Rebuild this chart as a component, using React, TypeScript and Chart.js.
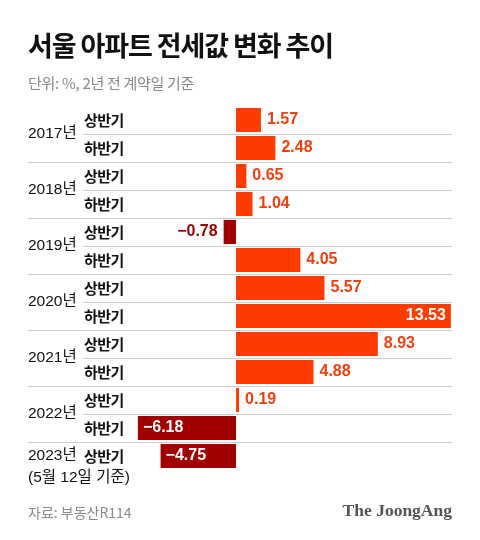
import React, { useEffect, useRef } from 'react';
import { Chart, registerables } from 'chart.js';

Chart.register(...registerables);

const titleText = '서울 아파트 전세값 변화 추이';
const subtitleText = '단위: %, 2년 전 계약일 기준';
const sourceText = '자료: 부동산R114';
const brandText = 'The JoongAng';

const categories = [
  '2017 상반기', '2017 하반기', '2018 상반기', '2018 하반기', '2019 상반기', '2019 하반기',
  '2020 상반기', '2020 하반기', '2021 상반기', '2021 하반기', '2022 상반기', '2022 하반기', '2023 상반기',
];
const rowYears = [
  '2017년', '2017년', '2018년', '2018년', '2019년', '2019년',
  '2020년', '2020년', '2021년', '2021년', '2022년', '2022년', '2023년',
];
const rowHalves = [
  '상반기', '하반기', '상반기', '하반기', '상반기', '하반기',
  '상반기', '하반기', '상반기', '하반기', '상반기', '하반기', '상반기',
];
const values = [1.57, 2.48, 0.65, 1.04, -0.78, 4.05, 5.57, 13.53, 8.93, 4.88, 0.19, -6.18, -4.75];
const noteYears = ['2023년'];
const noteTexts = ['(5월 12일 기준)'];

const POS_BAR = '#ff3c00';
const NEG_BAR = '#a00000';
const POS_TEXT = '#f0400f';
const NEG_TEXT = '#990000';
const KR = "'Noto Sans CJK KR'";
const NUM = "'Liberation Sans', 'Noto Sans CJK KR'";

function fmt(v: number) {
  return (v < 0 ? '\u2212' : '') + Math.abs(v).toFixed(2);
}

const rowPlugin = {
  id: 'rowPlugin',
  beforeDatasetsDraw(chart: any) {
    const { ctx, chartArea, scales } = chart;
    const ys = scales.y;
    const halfX = 83;
    ctx.save();
    ctx.strokeStyle = '#cccccc';
    ctx.lineWidth = 1;
    for (let i = 0; i < values.length - 1; i++) {
      const yy = Math.round((ys.getPixelForValue(i) + ys.getPixelForValue(i + 1)) / 2) + 0.5;
      const full = rowYears[i] !== rowYears[i + 1];
      ctx.beginPath();
      ctx.moveTo(full ? chartArea.left : halfX, yy);
      ctx.lineTo(chartArea.right, yy);
      ctx.stroke();
    }
    ctx.restore();
  },
  afterDatasetsDraw(chart: any) {
    const { ctx, chartArea, scales } = chart;
    const ys = scales.y;
    const halfLabelX = 84;
    ctx.save();
    ctx.textBaseline = 'middle';
    // year labels
    const seen: string[] = [];
    rowYears.forEach((yr) => {
      if (seen.indexOf(yr) >= 0) return;
      seen.push(yr);
      const idx: number[] = [];
      rowYears.forEach((y2, j) => { if (y2 === yr) idx.push(j); });
      const cy = idx.reduce((s, j) => s + ys.getPixelForValue(j), 0) / idx.length;
      ctx.font = `15.5px ${NUM}`;
      ctx.fillStyle = '#111111';
      ctx.textAlign = 'left';
      (ctx as any).letterSpacing = '0px';
      ctx.fillText(yr, chartArea.left, cy);
      const n = noteYears.indexOf(yr);
      if (n >= 0) {
        ctx.fillText(noteTexts[n], chartArea.left, cy + 22);
      }
    });
    // half labels
    rowHalves.forEach((h, i) => {
      ctx.font = `bold 15px ${KR}`;
      (ctx as any).letterSpacing = '-0.6px';
      ctx.fillStyle = '#111111';
      ctx.textAlign = 'left';
      ctx.fillText(h, halfLabelX, ys.getPixelForValue(i));
    });
    // value labels
    const meta = chart.getDatasetMeta(0);
    ctx.font = `bold 16px ${NUM}`;
    (ctx as any).letterSpacing = '0px';
    meta.data.forEach((bar: any, i: number) => {
      const v = values[i];
      const txt = fmt(v);
      const w = ctx.measureText(txt).width;
      const gap = 6;
      if (v >= 0) {
        if (bar.x + gap + w > chartArea.right) {
          ctx.fillStyle = '#ffffff';
          ctx.textAlign = 'right';
          ctx.fillText(txt, bar.x - 5, bar.y);
        } else {
          ctx.fillStyle = POS_TEXT;
          ctx.textAlign = 'left';
          ctx.fillText(txt, bar.x + gap, bar.y);
        }
      } else {
        const bw = bar.base - bar.x;
        if (bw > w + 12) {
          ctx.fillStyle = '#ffffff';
          ctx.textAlign = 'left';
          ctx.fillText(txt, bar.x + 5, bar.y);
        } else {
          ctx.fillStyle = NEG_TEXT;
          ctx.textAlign = 'right';
          ctx.fillText(txt, bar.x - gap, bar.y);
        }
      }
    });
    ctx.restore();
  },
};

export default function App() {
  const ref = useRef<HTMLCanvasElement | null>(null);
  useEffect(() => {
    if (!ref.current) return;
    const chart = new Chart(ref.current, {
      type: 'bar',
      data: {
        labels: categories,
        datasets: [
          {
            data: values,
            backgroundColor: values.map((v) => (v < 0 ? NEG_BAR : POS_BAR)),
            borderWidth: 0,
            barPercentage: 0.86,
            categoryPercentage: 1,
          },
        ],
      },
      options: {
        indexAxis: 'y',
        responsive: false,
        animation: false,
        devicePixelRatio: 1,
        layout: { padding: { left: 28, right: 28, top: 106, bottom: 70 } },
        plugins: { legend: { display: false }, tooltip: { enabled: false }, title: { display: false } },
        scales: {
          x: { display: false, min: -13.1, max: 13.6 },
          y: { display: false },
        },
      },
      plugins: [rowPlugin],
    });
    return () => chart.destroy();
  }, []);

  return (
    <div style={{ position: 'absolute', left: 0, top: 0, width: 480, height: 540, background: '#fff', overflow: 'hidden' }}>
      <canvas ref={ref} width={480} height={540} style={{ position: 'absolute', left: 0, top: 0, width: 480, height: 540 }} />
      <div style={{ position: 'absolute', left: 28, top: 31, fontFamily: KR, fontWeight: 700, fontSize: 27, lineHeight: '27px', letterSpacing: '-1.1px', color: '#111', whiteSpace: 'nowrap' }}>
        {titleText}
      </div>
      <div style={{ position: 'absolute', left: 28, top: 75, fontFamily: KR, fontSize: 15, lineHeight: '15px', letterSpacing: '-0.3px', color: '#888', whiteSpace: 'nowrap' }}>
        {subtitleText}
      </div>
      <div style={{ position: 'absolute', left: 28, top: 505, fontFamily: KR, fontSize: 14, lineHeight: '14px', letterSpacing: '0px', color: '#888', whiteSpace: 'nowrap' }}>
        {sourceText}
      </div>
      <div style={{ position: 'absolute', right: 28, top: 502, fontFamily: "'Liberation Serif', serif", fontWeight: 700, fontSize: 17.5, lineHeight: '17.5px', color: '#555', whiteSpace: 'nowrap' }}>
        {brandText}
      </div>
    </div>
  );
}
